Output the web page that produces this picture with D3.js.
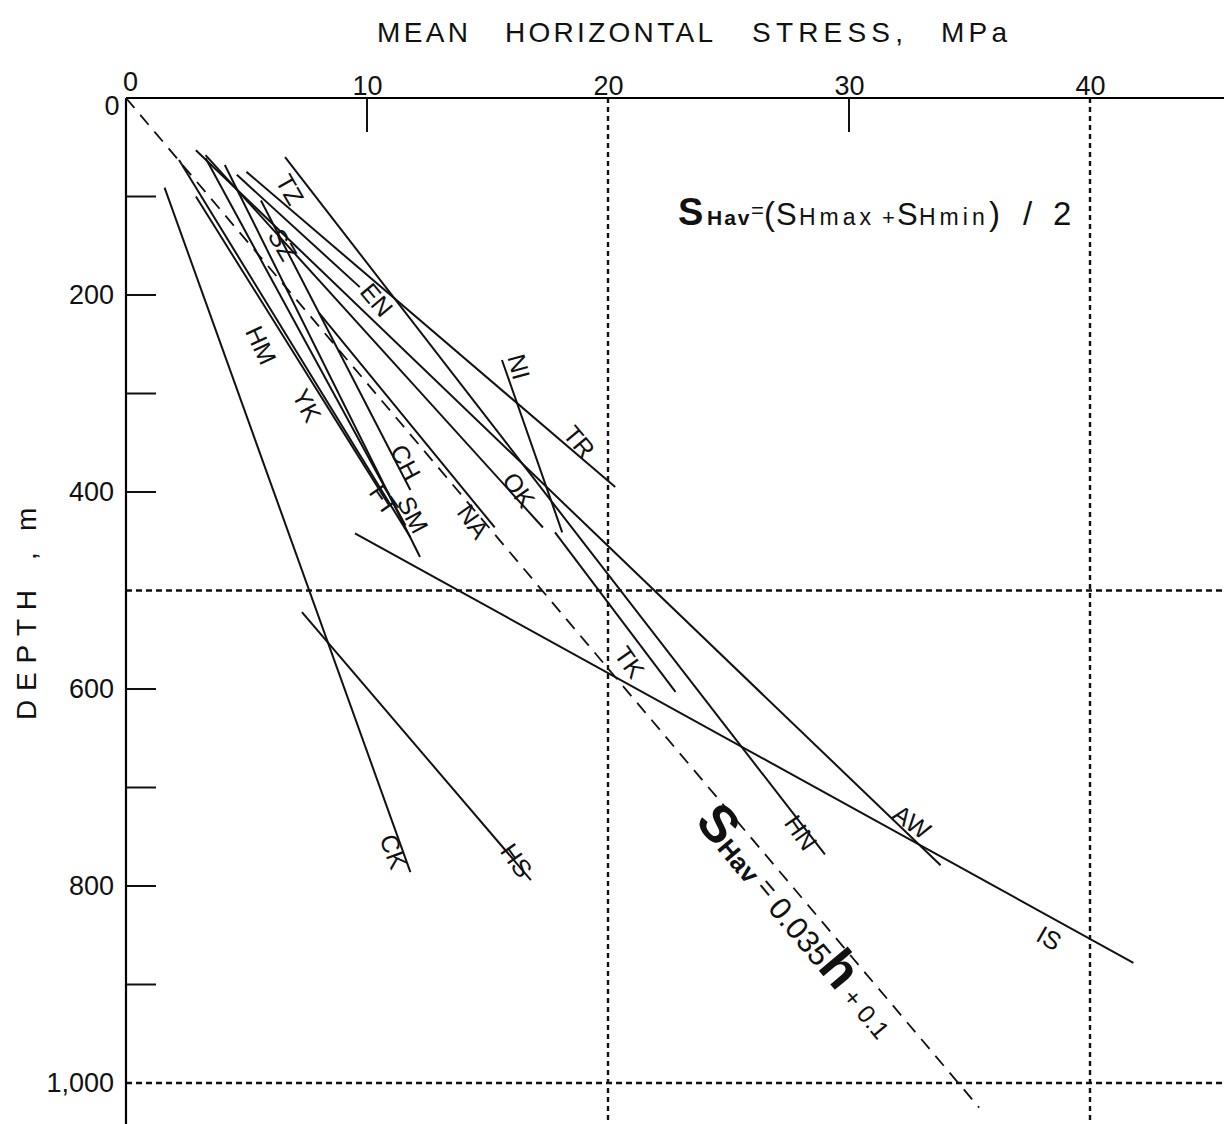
<!DOCTYPE html>
<html>
<head>
<meta charset="utf-8">
<script src="https://cdn.jsdelivr.net/npm/d3@7"></script>
<style>
    body { margin: 0; background: #fff; }
    svg text { font-family: "Liberation Sans", "DejaVu Sans", sans-serif; fill: #111; }
</style>
</head>
<body>
<div class="output"></div>
<script>
// Оси
const stressTicks = [0, 10, 20, 30, 40];
const stressMinor = [10, 30];
const stressGrid = [20, 40];
const depthLabels = [0, 200, 400, 600, 800, 1000];
const depthTicks = [100, 200, 300, 400, 600, 700, 800, 900];
const depthGrid = [500, 1000];

// Отрезки по площадкам: начало и конец (МПа, м)
const sites       = ["CK", "HS", "IS", "AW", "HN", "TK", "NI", "TR", "OK", "EN", "NA", "CH", "SM", "FT", "YK", "HM"];
const startStress = [1.6, 7.3, 9.5, 2.9, 6.6, 17.8, 15.6, 5.0, 3.3, 4.6, 8.0, 5.6, 4.1, 3.3, 2.2, 2.9];
const startDepth  = [91, 522, 442, 53, 60, 441, 266, 75, 58, 78, 218, 104, 68, 61, 63, 100];
const endStress   = [11.8, 16.8, 41.8, 33.8, 29.0, 22.8, 18.1, 20.3, 17.3, 9.7, 15.3, 11.8, 12.2, 11.6, 11.8, 10.9];
const endDepth    = [786, 794, 878, 779, 768, 603, 441, 395, 436, 192, 436, 398, 466, 434, 446, 413];

// Подписи площадок
const labelNames  = ["TZ", "SZ", "EN", "HM", "YK", "CH", "SM", "FT", "NA", "OK", "NI", "TR", "TK", "HN", "AW", "IS", "CK", "HS"];
const labelStress = [6.8, 6.5, 10.4, 5.6, 7.5, 11.6, 11.9, 10.7, 14.4, 16.3, 16.3, 18.8, 20.9, 28.0, 32.6, 38.3, 11.1, 16.2];
const labelDepth  = [93, 149, 205, 251, 312, 370, 423, 408, 430, 398, 273, 349, 573, 746, 735, 853, 765, 774];
const labelAngle  = [60, 60, 50, 65, 62, 62, 62, 55, 55, 55, 75, 50, 55, 55, 35, 30, 70, 55];

// Заголовки
const titleWords = ["MEAN", "HORIZONTAL", "STRESS,", "MPa"];
const depthWords = ["DEPTH", ",", "m"];

// S_Hav = 0.035h + 0.1
const fitStress = [0, 35.4];
const fitDepth  = [0, 1025];

const width = 1224, height = 1124;

const svg = d3.select(".output")
    .append("svg")
    .attr("width", width)
    .attr("height", height);

let x = d3.scaleLinear().domain([0, 40]).range([126, 1090]);
let y = d3.scaleLinear().domain([0, 1000]).range([98, 1083]);

// Сетка
svg.selectAll("vgrid")
    .data(stressGrid)
    .enter().append("line")
    .attr("x1", d => x(d)).attr("x2", d => x(d))
    .attr("y1", y(0)).attr("y2", height)
    .attr("stroke", "#111").attr("stroke-width", 2.4)
    .attr("stroke-dasharray", "5,4");

svg.selectAll("hgrid")
    .data(depthGrid)
    .enter().append("line")
    .attr("x1", x(0)).attr("x2", width)
    .attr("y1", d => y(d)).attr("y2", d => y(d))
    .attr("stroke", "#111").attr("stroke-width", 2.4)
    .attr("stroke-dasharray", "6,4");

// Ось X сверху
let xAxis = svg.append("g")
    .attr("transform", "translate(0," + y(0) + ")")
    .call(d3.axisTop(x).tickValues(stressTicks).tickSize(0).tickPadding(3).tickFormat(d3.format("d")));
xAxis.select(".domain").attr("d", "M" + x(0) + ",0H" + width).attr("stroke-width", 2.2);
xAxis.selectAll("text").attr("font-size", 27).attr("font-family", "Liberation Sans");
xAxis.selectAll(".tick").filter(d => d === 0).select("text").attr("dy", "-0.15em").attr("dx", "0.15em");

svg.selectAll("xminor")
    .data(stressMinor)
    .enter().append("line")
    .attr("x1", d => x(d)).attr("x2", d => x(d))
    .attr("y1", y(0)).attr("y2", y(0) + 34)
    .attr("stroke", "#111").attr("stroke-width", 2);

// Ось Y слева
let yAxis = svg.append("g")
    .attr("transform", "translate(" + x(0) + ",0)")
    .call(d3.axisLeft(y).tickValues(depthLabels).tickSize(0).tickPadding(12).tickFormat(d3.format(",")));
yAxis.select(".domain").attr("d", "M0," + y(0) + "V" + height).attr("stroke-width", 2.2);
yAxis.selectAll("text").attr("font-size", 27).attr("font-family", "Liberation Sans");
yAxis.selectAll(".tick").filter(d => d === 0).select("text").attr("dy", "0.6em").attr("dx", "0.2em");

svg.selectAll("yticks")
    .data(depthTicks)
    .enter().append("line")
    .attr("x1", x(0)).attr("x2", x(0) + 30)
    .attr("y1", d => y(d)).attr("y2", d => y(d))
    .attr("stroke", "#111").attr("stroke-width", 2);

// Подписи осей
const titleX = [377, 505, 752, 941];
const titleLen = [91, 208, 151, 66];
svg.selectAll("title")
    .data(titleWords)
    .enter().append("text")
    .attr("x", (d, i) => titleX[i]).attr("y", 42)
    .attr("font-size", 28)
    .attr("textLength", (d, i) => titleLen[i]).attr("lengthAdjust", "spacing")
    .text(d => d);

const depthY = [720, 560, 531];
const depthLen = [130, 6, 24];
svg.selectAll("depthlbl")
    .data(depthWords)
    .enter().append("text")
    .attr("transform", (d, i) => "translate(36," + depthY[i] + ") rotate(-90)")
    .attr("font-size", 28)
    .attr("textLength", (d, i) => depthLen[i]).attr("lengthAdjust", "spacing")
    .text(d => d);

// Регрессия
svg.append("line")
    .attr("x1", x(fitStress[0])).attr("y1", y(fitDepth[0]))
    .attr("x2", x(fitStress[1])).attr("y2", y(fitDepth[1]))
    .attr("stroke", "#111").attr("stroke-width", 1.8)
    .attr("stroke-dasharray", "13,9");

// Отрезки
svg.selectAll("segs")
    .data(sites)
    .enter().append("line")
    .attr("x1", (d, i) => x(startStress[i]))
    .attr("y1", (d, i) => y(startDepth[i]))
    .attr("x2", (d, i) => x(endStress[i]))
    .attr("y2", (d, i) => y(endDepth[i]))
    .attr("stroke", "#111").attr("stroke-width", 2);

// Подписи площадок
svg.selectAll("lbls")
    .data(labelNames)
    .enter().append("text")
    .attr("transform", (d, i) => "translate(" + x(labelStress[i]) + "," + y(labelDepth[i]) + ") rotate(" + labelAngle[i] + ")")
    .attr("text-anchor", "middle")
    .attr("dy", "0.35em")
    .attr("font-size", 25)
    .text(d => d);

// Формула сверху справа
let f1 = svg.append("text").attr("y", 225);
f1.append("tspan").attr("x", 678).attr("font-size", 38).attr("font-weight", "bold").text("S");
f1.append("tspan").attr("x", 707).attr("font-size", 21).attr("font-weight", "bold").attr("letter-spacing", 2).text("Hav");
f1.append("tspan").attr("x", 751).attr("font-size", 22).attr("dy", -7).text("=");
f1.append("tspan").attr("x", 764).attr("font-size", 33).attr("dy", 7).text("(");
f1.append("tspan").attr("x", 776).attr("font-size", 31).text("S");
f1.append("tspan").attr("x", 799).attr("font-size", 23).attr("letter-spacing", 4).text("Hmax");
f1.append("tspan").attr("x", 882).attr("font-size", 22).text("+");
f1.append("tspan").attr("x", 897).attr("font-size", 31).text("S");
f1.append("tspan").attr("x", 919).attr("font-size", 23).attr("letter-spacing", 4).text("Hmin");
f1.append("tspan").attr("x", 989).attr("font-size", 33).text(")");
f1.append("tspan").attr("x", 1023).attr("font-size", 33).text("/");
f1.append("tspan").attr("x", 1053).attr("font-size", 33).text("2");

// Формула регрессии вдоль линии
let f2 = svg.append("text").attr("transform", "translate(694,822) rotate(50)");
f2.append("tspan").attr("font-size", 52).attr("font-weight", "bold").text("S");
f2.append("tspan").attr("font-size", 26).attr("font-weight", "bold").text("Hav");
f2.append("tspan").attr("font-size", 27).attr("dy", -5).text(" = ");
f2.append("tspan").attr("font-size", 31).attr("dy", 5).text("0.035");
f2.append("tspan").attr("font-size", 52).attr("font-weight", "bold").text("h");
f2.append("tspan").attr("font-size", 25).text(" + 0.1");
</script>
</body>
</html>
